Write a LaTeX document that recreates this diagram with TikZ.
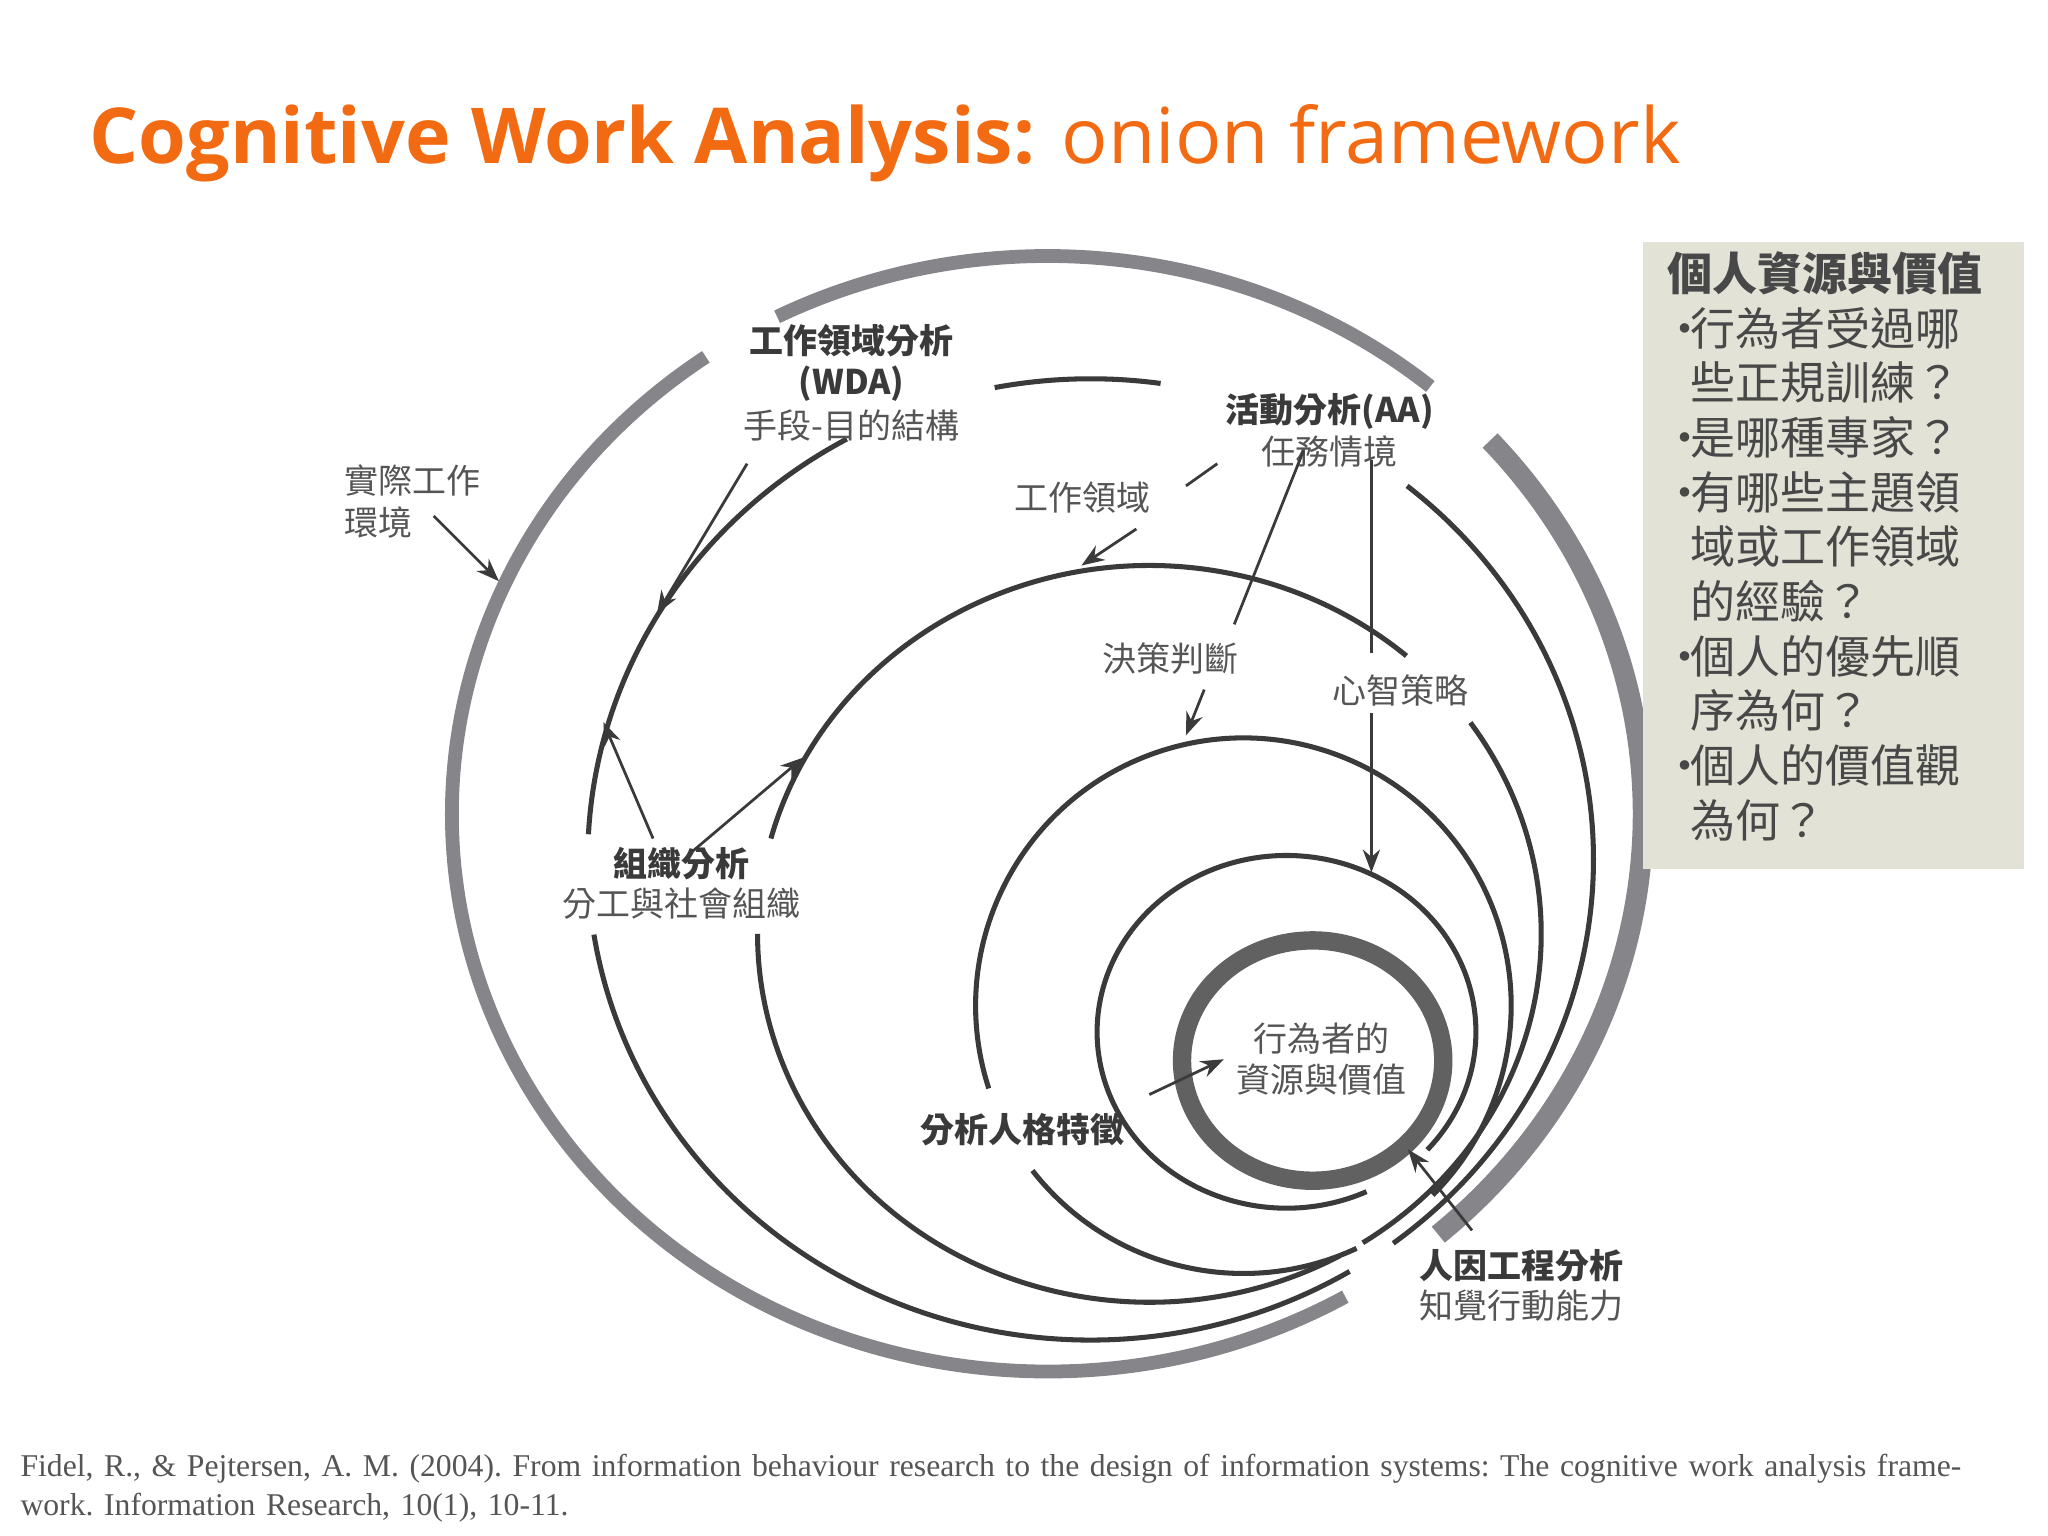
\documentclass[tikz,border=0pt]{standalone}
\usepackage{fontspec}
\setmainfont{Liberation Serif}
\newfontfamily\cjk{Noto Sans CJK TC}
\newfontfamily\osans{Open Sans}
\usetikzlibrary{arrows.meta,calc}
\definecolor{ttl}{HTML}{F26B12}
\definecolor{ring}{HTML}{3A3A3A}
\definecolor{oring}{HTML}{85858A}
\definecolor{panel}{HTML}{E2E2D6}
\definecolor{lbl}{HTML}{555555}
\tikzset{
  thinring/.style={draw=ring,line width=1.1pt},
  outerring/.style={draw=oring,line width=3pt},
  arr/.style={draw=ring,line width=0.6pt,-{Stealth[length=5pt]}},
  ln/.style={draw=ring,line width=0.6pt},
  blab/.style={font=\cjk\fontsize{7.4}{9}\selectfont\bfseries,text=ring,align=center,inner sep=1pt},
  glab/.style={font=\cjk\fontsize{7.4}{9}\selectfont,text=lbl,align=center,inner sep=1pt},
}
\newcommand{\earc}[6]{\draw[#1] ($(#2)+({#5}:#3 and #4)$) arc[start angle=#5,end angle=#6,x radius=#3,y radius=#4];}
\newcommand{\bul}{\makebox[0.5em][l]{\hspace{-0.12em}•}}
\newcommand{\nob}{\hspace{0.5em}}
\begin{document}
\begin{tikzpicture}[x=0.01cm,y=-0.01cm]
\useasboundingbox (0,0) rectangle (1568,1176);
% title
\node[anchor=base west,inner sep=0,font=\osans\fontsize{16.8}{20}\selectfont,text=ttl] (title) at (68,125) {\textbf{Cognitive Work Analysis:} onion framework};
% outer ring
\coordinate (c1) at (802,623);
\earc{outerring}{c1}{456}{427}{60}{235}
\earc{outerring}{c1}{456}{427}{243}{310}
\earc{outerring,line width=4.5pt}{c1}{456}{427}{-42}{49}
% ring 2
\coordinate (c2) at (835,658);
\earc{thinring}{c2}{385}{368}{259}{278}
\earc{thinring}{c2}{385}{368}{183}{241}
\earc{thinring}{c2}{385}{368}{59}{171}
\earc{thinring}{c2}{385}{368}{-51}{53}
% ring 3
\coordinate (c3) at (880,715);
\earc{thinring}{c3}{300}{282}{195}{311}
\earc{thinring}{c3}{300}{282}{61}{180}
\earc{thinring}{c3}{300}{282}{-35}{57}
% ring 4
\coordinate (c4) at (952,770);
\earc{thinring}{c4}{205}{205}{162}{405}
\earc{thinring}{c4}{205}{205}{65}{142}
% ring 5
\coordinate (c5) at (985,790);
\earc{thinring}{c5}{145}{135}{65}{402}
% inner
\draw[draw=ring!80,line width=4pt] (1005,812) ellipse[x radius=100,y radius=92];
% labels
\node[glab,align=left] (env) at (316,384) {實際工作\\環境};
\node[blab] (wda) at (652,278) {工作領域分析\\(WDA)};
\node[glab] (wdas) at (652,326) {手段-目的結構};
\node[blab] (aa) at (1018,315) {活動分析(AA)};
\node[glab] (aas) at (1018,346) {任務情境};
\node[glab] (wd) at (829,381) {工作領域};
\node[glab] (dec) at (896,504) {決策判斷};
\node[glab] (ms) at (1072,529) {心智策略};
\node[blab] (org) at (522,661) {組織分析};
\node[glab] (orgs) at (522,692) {分工與社會組織};
\node[blab] (per) at (783,865) {分析人格特徵};
\node[glab] (act) at (1012,811) {行為者的\\資源與價值};
\node[blab] (hf) at (1165,969) {人因工程分析};
\node[glab] (hfs) at (1165,1000) {知覺行動能力};
% connectors
\coordinate (e1) at (332,395); \coordinate (e2) at (382,445);
\draw[arr] (e1) -- (e2);
\coordinate (w1) at (572,355); \coordinate (w2) at (503,470);
\draw[arr] (w1) -- (w2);
\coordinate (d1) at (932,355); \coordinate (d2) at (908,372);
\draw[ln] (d1) -- (d2);
\coordinate (d3) at (870,405); \coordinate (d4) at (828,433);
\draw[arr] (d3) -- (d4);
\coordinate (a1) at (998,345); \coordinate (a2) at (945,478);
\draw[ln] (a1) -- (a2);
\coordinate (a3) at (922,528); \coordinate (a4) at (908,563);
\draw[arr] (a3) -- (a4);
\coordinate (m1) at (1050,352); \coordinate (m2) at (1050,500);
\draw[ln] (m1) -- (m2);
\coordinate (m3) at (1050,546); \coordinate (m4) at (1050,668);
\draw[arr] (m3) -- (m4);
\coordinate (o1) at (500,642); \coordinate (o2) at (462,553);
\draw[arr] (o1) -- (o2);
\coordinate (o3) at (530,652); \coordinate (o4) at (615,580);
\draw[arr] (o3) -- (o4);
\coordinate (p1) at (880,838); \coordinate (p2) at (937,811);
\draw[arr] (p1) -- (p2);
\coordinate (h1) at (1127,942); \coordinate (h2) at (1078,880);
\draw[arr] (h1) -- (h2);
% right panel
\fill[panel] (1258,185) rectangle (1550,665);
\node[anchor=north west,inner sep=0,font=\cjk\fontsize{9.8}{11.9}\selectfont,text=lbl!85!black,align=left] (panelt) at (1276,192) {%
\textbf{個人資源與價值}\\
\bul 行為者受過哪\\
\nob 些正規訓練？\\
\bul 是哪種專家？\\
\bul 有哪些主題領\\
\nob 域或工作領域\\
\nob 的經驗？\\
\bul 個人的優先順\\
\nob 序為何？\\
\bul 個人的價值觀\\
\nob 為何？};
% citation
\node[anchor=north west,inner sep=0,text width=15.3cm,align=left,font=\fontsize{6.9}{8.4}\selectfont\frenchspacing,text=lbl] (cite) at (15,1113) {Fidel, R., \& Pejtersen, A. M. (2004). From information behaviour research to the design of information systems: The cognitive work analysis framework. Information Research, 10(1), 10-11.};
\end{tikzpicture}
\end{document}
